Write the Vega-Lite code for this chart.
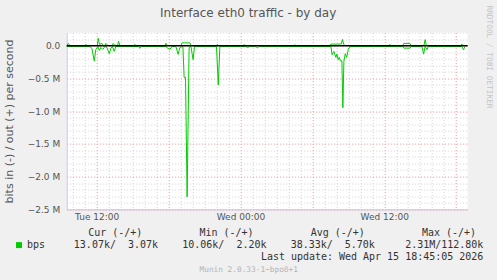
{
  "$schema": "https://vega.github.io/schema/vega-lite/v6.json",
  "width": 401,
  "height": 176.7,
  "autosize": {"type": "none"},
  "padding": {"left": 66.7, "top": 32.6, "right": 29.6, "bottom": 70.7},
  "background": "#F0F0F0",
  "config": {"view": {"fill": "#FFFFFF", "stroke": null}, "font": "DejaVu Sans"},
  "title": {"text": "Interface eth0 traffic - by day", "anchor": "middle", "frame": "group", "dx": -19, "offset": -12.3, "dy": 12.3, "fontSize": 12, "fontWeight": "normal", "color": "#555555", "font": "DejaVu Sans", "baseline": "alphabetic"},
  "datasets": {
    "series": [
      {"t": "2026-04-14T09:31Z", "dir": "in", "bps": -13000},
      {"t": "2026-04-14T10:11Z", "dir": "in", "bps": -13000},
      {"t": "2026-04-14T11:01Z", "dir": "in", "bps": -12000},
      {"t": "2026-04-14T11:26Z", "dir": "in", "bps": -13000},
      {"t": "2026-04-14T11:36Z", "dir": "in", "bps": -41000},
      {"t": "2026-04-14T11:48Z", "dir": "in", "bps": -233000},
      {"t": "2026-04-14T11:56Z", "dir": "in", "bps": -57000},
      {"t": "2026-04-14T12:06Z", "dir": "in", "bps": -13000},
      {"t": "2026-04-14T12:14Z", "dir": "in", "bps": -72000},
      {"t": "2026-04-14T12:21Z", "dir": "in", "bps": -26000},
      {"t": "2026-04-14T12:31Z", "dir": "in", "bps": -57000},
      {"t": "2026-04-14T12:41Z", "dir": "in", "bps": -13000},
      {"t": "2026-04-14T12:51Z", "dir": "in", "bps": -26000},
      {"t": "2026-04-14T13:03Z", "dir": "in", "bps": -123000},
      {"t": "2026-04-14T13:11Z", "dir": "in", "bps": -41000},
      {"t": "2026-04-14T13:19Z", "dir": "in", "bps": -13000},
      {"t": "2026-04-14T13:28Z", "dir": "in", "bps": -87000},
      {"t": "2026-04-14T13:36Z", "dir": "in", "bps": -13000},
      {"t": "2026-04-14T14:21Z", "dir": "in", "bps": -13000},
      {"t": "2026-04-14T15:31Z", "dir": "in", "bps": -13000},
      {"t": "2026-04-14T15:36Z", "dir": "in", "bps": -41000},
      {"t": "2026-04-14T15:41Z", "dir": "in", "bps": -13000},
      {"t": "2026-04-14T17:47Z", "dir": "in", "bps": -13000},
      {"t": "2026-04-14T17:57Z", "dir": "in", "bps": -41000},
      {"t": "2026-04-14T18:07Z", "dir": "in", "bps": -57000},
      {"t": "2026-04-14T18:17Z", "dir": "in", "bps": -13000},
      {"t": "2026-04-14T18:37Z", "dir": "in", "bps": -13000},
      {"t": "2026-04-14T18:48Z", "dir": "in", "bps": -133000},
      {"t": "2026-04-14T18:57Z", "dir": "in", "bps": -26000},
      {"t": "2026-04-14T19:12Z", "dir": "in", "bps": -13000},
      {"t": "2026-04-14T19:18Z", "dir": "in", "bps": -485000},
      {"t": "2026-04-14T19:25Z", "dir": "in", "bps": -485000},
      {"t": "2026-04-14T19:33Z", "dir": "in", "bps": -2310000},
      {"t": "2026-04-14T19:43Z", "dir": "in", "bps": -26000},
      {"t": "2026-04-14T19:52Z", "dir": "in", "bps": -13000},
      {"t": "2026-04-14T20:03Z", "dir": "in", "bps": -214000},
      {"t": "2026-04-14T20:10Z", "dir": "in", "bps": -13000},
      {"t": "2026-04-14T22:00Z", "dir": "in", "bps": -13000},
      {"t": "2026-04-14T22:09Z", "dir": "in", "bps": -597000},
      {"t": "2026-04-14T22:17Z", "dir": "in", "bps": -13000},
      {"t": "2026-04-15T00:27Z", "dir": "in", "bps": -13000},
      {"t": "2026-04-15T00:37Z", "dir": "in", "bps": -26000},
      {"t": "2026-04-15T00:47Z", "dir": "in", "bps": -13000},
      {"t": "2026-04-15T01:17Z", "dir": "in", "bps": -13000},
      {"t": "2026-04-15T01:26Z", "dir": "in", "bps": -34000},
      {"t": "2026-04-15T01:32Z", "dir": "in", "bps": -13000},
      {"t": "2026-04-15T07:33Z", "dir": "in", "bps": -13000},
      {"t": "2026-04-15T07:39Z", "dir": "in", "bps": -138000},
      {"t": "2026-04-15T07:48Z", "dir": "in", "bps": -87000},
      {"t": "2026-04-15T07:58Z", "dir": "in", "bps": -179000},
      {"t": "2026-04-15T08:03Z", "dir": "in", "bps": -129000},
      {"t": "2026-04-15T08:09Z", "dir": "in", "bps": -214000},
      {"t": "2026-04-15T08:15Z", "dir": "in", "bps": -179000},
      {"t": "2026-04-15T08:20Z", "dir": "in", "bps": -230000},
      {"t": "2026-04-15T08:28Z", "dir": "in", "bps": -230000},
      {"t": "2026-04-15T08:33Z", "dir": "in", "bps": -949000},
      {"t": "2026-04-15T08:38Z", "dir": "in", "bps": -240000},
      {"t": "2026-04-15T08:45Z", "dir": "in", "bps": -123000},
      {"t": "2026-04-15T08:52Z", "dir": "in", "bps": -179000},
      {"t": "2026-04-15T09:00Z", "dir": "in", "bps": -57000},
      {"t": "2026-04-15T09:08Z", "dir": "in", "bps": -13000},
      {"t": "2026-04-15T12:58Z", "dir": "in", "bps": -13000},
      {"t": "2026-04-15T13:03Z", "dir": "in", "bps": -18000},
      {"t": "2026-04-15T13:08Z", "dir": "in", "bps": -13000},
      {"t": "2026-04-15T13:33Z", "dir": "in", "bps": -13000},
      {"t": "2026-04-15T13:38Z", "dir": "in", "bps": -37000},
      {"t": "2026-04-15T14:09Z", "dir": "in", "bps": -37000},
      {"t": "2026-04-15T14:14Z", "dir": "in", "bps": -13000},
      {"t": "2026-04-15T15:09Z", "dir": "in", "bps": -13000},
      {"t": "2026-04-15T15:17Z", "dir": "in", "bps": -129000},
      {"t": "2026-04-15T15:25Z", "dir": "in", "bps": -13000},
      {"t": "2026-04-15T15:34Z", "dir": "in", "bps": -61000},
      {"t": "2026-04-15T15:41Z", "dir": "in", "bps": -13000},
      {"t": "2026-04-15T18:29Z", "dir": "in", "bps": -13000},
      {"t": "2026-04-15T18:37Z", "dir": "in", "bps": -61000},
      {"t": "2026-04-15T18:44Z", "dir": "in", "bps": -13000},
      {"t": "2026-04-14T09:31Z", "dir": "out", "bps": 3000},
      {"t": "2026-04-14T09:38Z", "dir": "out", "bps": 35000},
      {"t": "2026-04-14T09:46Z", "dir": "out", "bps": 3000},
      {"t": "2026-04-14T11:01Z", "dir": "out", "bps": 3000},
      {"t": "2026-04-14T11:06Z", "dir": "out", "bps": 20000},
      {"t": "2026-04-14T11:11Z", "dir": "out", "bps": 3000},
      {"t": "2026-04-14T12:03Z", "dir": "out", "bps": 3000},
      {"t": "2026-04-14T12:08Z", "dir": "out", "bps": 112800},
      {"t": "2026-04-14T12:14Z", "dir": "out", "bps": 20000},
      {"t": "2026-04-14T12:26Z", "dir": "out", "bps": 35000},
      {"t": "2026-04-14T12:31Z", "dir": "out", "bps": 3000},
      {"t": "2026-04-14T12:41Z", "dir": "out", "bps": 3000},
      {"t": "2026-04-14T12:46Z", "dir": "out", "bps": 35000},
      {"t": "2026-04-14T12:56Z", "dir": "out", "bps": 3000},
      {"t": "2026-04-14T13:18Z", "dir": "out", "bps": 3000},
      {"t": "2026-04-14T13:23Z", "dir": "out", "bps": 35000},
      {"t": "2026-04-14T13:31Z", "dir": "out", "bps": 3000},
      {"t": "2026-04-14T13:45Z", "dir": "out", "bps": 3000},
      {"t": "2026-04-14T13:50Z", "dir": "out", "bps": 66000},
      {"t": "2026-04-14T13:56Z", "dir": "out", "bps": 3000},
      {"t": "2026-04-14T15:06Z", "dir": "out", "bps": 3000},
      {"t": "2026-04-14T15:11Z", "dir": "out", "bps": 20000},
      {"t": "2026-04-14T15:16Z", "dir": "out", "bps": 3000},
      {"t": "2026-04-14T17:42Z", "dir": "out", "bps": 3000},
      {"t": "2026-04-14T17:47Z", "dir": "out", "bps": 35000},
      {"t": "2026-04-14T17:52Z", "dir": "out", "bps": 3000},
      {"t": "2026-04-14T19:02Z", "dir": "out", "bps": 3000},
      {"t": "2026-04-14T19:08Z", "dir": "out", "bps": 43000},
      {"t": "2026-04-14T19:47Z", "dir": "out", "bps": 43000},
      {"t": "2026-04-14T19:53Z", "dir": "out", "bps": 3000},
      {"t": "2026-04-14T21:59Z", "dir": "out", "bps": 3000},
      {"t": "2026-04-14T22:04Z", "dir": "out", "bps": 20000},
      {"t": "2026-04-14T22:10Z", "dir": "out", "bps": 3000},
      {"t": "2026-04-15T00:12Z", "dir": "out", "bps": 3000},
      {"t": "2026-04-15T00:17Z", "dir": "out", "bps": 12000},
      {"t": "2026-04-15T00:27Z", "dir": "out", "bps": 3000},
      {"t": "2026-04-15T04:28Z", "dir": "out", "bps": 3000},
      {"t": "2026-04-15T04:33Z", "dir": "out", "bps": 12000},
      {"t": "2026-04-15T04:38Z", "dir": "out", "bps": 3000},
      {"t": "2026-04-15T07:28Z", "dir": "out", "bps": 3000},
      {"t": "2026-04-15T07:33Z", "dir": "out", "bps": 24500},
      {"t": "2026-04-15T08:25Z", "dir": "out", "bps": 24500},
      {"t": "2026-04-15T08:31Z", "dir": "out", "bps": 96000},
      {"t": "2026-04-15T08:37Z", "dir": "out", "bps": 20000},
      {"t": "2026-04-15T08:43Z", "dir": "out", "bps": 3000},
      {"t": "2026-04-15T12:23Z", "dir": "out", "bps": 3000},
      {"t": "2026-04-15T12:28Z", "dir": "out", "bps": 20000},
      {"t": "2026-04-15T12:33Z", "dir": "out", "bps": 3000},
      {"t": "2026-04-15T13:33Z", "dir": "out", "bps": 3000},
      {"t": "2026-04-15T13:38Z", "dir": "out", "bps": 35000},
      {"t": "2026-04-15T14:09Z", "dir": "out", "bps": 35000},
      {"t": "2026-04-15T14:14Z", "dir": "out", "bps": 3000},
      {"t": "2026-04-15T15:19Z", "dir": "out", "bps": 3000},
      {"t": "2026-04-15T15:25Z", "dir": "out", "bps": 92000},
      {"t": "2026-04-15T15:31Z", "dir": "out", "bps": 3000},
      {"t": "2026-04-15T18:24Z", "dir": "out", "bps": 3000},
      {"t": "2026-04-15T18:29Z", "dir": "out", "bps": 24500},
      {"t": "2026-04-15T18:34Z", "dir": "out", "bps": 3000},
      {"t": "2026-04-15T18:44Z", "dir": "out", "bps": 3000}
    ],
    "stats": [
      {"stat": "Cur", "head": "Cur (-/+)", "val": "13.07k/\u00a0\u00a03.07k"},
      {"stat": "Min", "head": "Min (-/+)", "val": "10.06k/\u00a0\u00a02.20k"},
      {"stat": "Avg", "head": "Avg (-/+)", "val": "38.33k/\u00a0\u00a05.70k"},
      {"stat": "Max", "head": "Max (-/+)", "val": "2.31M/112.80k"}
    ]
  },
  "layer": [
    {
      "layer": [
        {
          "data": {"name": "series"},
          "mark": {"type": "line", "strokeWidth": 1},
          "encoding": {
            "x": {
              "field": "t", "type": "temporal",
              "scale": {"type": "utc", "domain": [1776159000000, 1776279480000]},
              "axis": {
                "values": [1776160800000, 1776164400000, 1776168000000, 1776171600000, 1776175200000, 1776178800000, 1776182400000, 1776186000000, 1776189600000, 1776193200000, 1776196800000, 1776200400000, 1776204000000, 1776207600000, 1776211200000, 1776214800000, 1776218400000, 1776222000000, 1776225600000, 1776229200000, 1776232800000, 1776236400000, 1776240000000, 1776243600000, 1776247200000, 1776250800000, 1776254400000, 1776258000000, 1776261600000, 1776265200000, 1776268800000, 1776272400000, 1776276000000],
                "labelExpr": "utchours(datum.value) % 12 == 0 ? utcFormat(datum.value, '%a %H:%M') : ''",
                "labelFont": "DejaVu Sans", "labelFontSize": 9, "labelColor": "#555555", "labelPadding": 3,
                "labelOverlap": false, "labelFlush": false,
                "ticks": false, "domainColor": "#C8C8F0",
                "grid": true,
                "gridColor": {"condition": {"test": "utchours(datum.value) % 6 == 0", "value": "#F29090"}, "value": "#D2D2D2"},
                "gridDash": [1, 2],
                "title": "Munin 2.0.33-1~bpo8+1",
                "titleX": 181.5, "titleY": 60.2, "titleAlign": "center", "titleBaseline": "middle",
                "titleFont": "DejaVu Sans Mono", "titleFontSize": 7.8, "titleFontWeight": "normal", "titleColor": "#B4B4B4"
              }
            },
            "y": {
              "field": "bps", "type": "quantitative",
              "scale": {"domain": [-2500000, 200000], "nice": false, "zero": false},
              "axis": {
                "tickCount": 27,
                "labelExpr": "abs(round(datum.value / 100000)) % 5 == 0 ? (abs(datum.value) < 1 ? '0.0' : format(datum.value / 1000000, '.1f') + ' M') : ''",
                "labelFont": "DejaVu Sans", "labelFontSize": 9, "labelColor": "#555555", "labelPadding": 7,
                "labelOverlap": false, "labelFlush": false,
                "ticks": false, "domainColor": "#C8C8F0",
                "grid": true,
                "gridColor": {"condition": {"test": "abs(round(datum.value / 100000)) % 5 == 0", "value": "#F29090"}, "value": "#D2D2D2"},
                "gridDash": [1, 2],
                "title": "bits in (-) / out (+) per second",
                "titleX": -56.7, "titleY": 88.35, "titleAngle": -90, "titleAlign": "center", "titleBaseline": "middle",
                "titleFont": "DejaVu Sans", "titleFontSize": 11, "titleFontWeight": "normal", "titleColor": "#555555"
              }
            },
            "detail": {"field": "dir", "type": "nominal"},
            "color": {
              "datum": "bps", "type": "nominal",
              "scale": {"range": ["#00CC00"]},
              "legend": {
                "orient": "none", "legendX": -52.7, "legendY": 207.5, "title": null, "padding": 0,
                "symbolType": "square", "symbolSize": 36, "symbolFillColor": "#00CC00", "symbolStrokeColor": "#00CC00", "symbolStrokeWidth": 0,
                "labelFont": "DejaVu Sans Mono", "labelFontSize": 10, "labelColor": "#333333", "labelOffset": 3,
                "encode": {"symbols": {"update": {"fill": {"value": "#00CC00"}, "stroke": {"value": "#00CC00"}, "strokeWidth": {"value": 0}}}}
              }
            }
          }
        },
        {
          "data": {"values": [{}]},
          "mark": {"type": "rule", "color": "#000000", "strokeWidth": 1.5},
          "encoding": {"y": {"datum": 0}}
        }
      ]
    },
    {
      "data": {"name": "stats"},
      "layer": [
        {
          "mark": {"type": "text", "align": "right", "baseline": "middle", "font": "DejaVu Sans Mono", "fontSize": 10, "color": "#333333"},
          "encoding": {
            "x": {"field": "stat", "type": "nominal", "scale": {"type": "point", "domain": ["Cur", "Min", "Avg", "Max"], "range": [91.3, 416.6], "padding": 0}, "axis": null},
            "y": {
              "datum": "vals", "type": "nominal",
              "scale": {"type": "point", "domain": ["head", "vals", "upd"], "range": [200.9, 224.6], "padding": 0},
              "axis": {
                "orient": "right", "labels": false, "ticks": false, "domain": false, "grid": false,
                "title": "RRDTOOL / TOBI OETIKER", "titleAngle": 90, "titleX": 20.6, "titleY": 23.9,
                "titleAlign": "center", "titleBaseline": "middle",
                "titleFont": "DejaVu Sans Mono", "titleFontSize": 7.8, "titleFontWeight": "normal", "titleColor": "#C4C4C4"
              }
            },
            "text": {"field": "val", "type": "nominal"}
          }
        },
        {
          "data": {"values": [{"txt": "Last update: Wed Apr 15 18:45:05 2026"}]},
          "mark": {"type": "text", "align": "right", "baseline": "middle", "font": "DejaVu Sans Mono", "fontSize": 10, "color": "#333333"},
          "encoding": {
            "x": {"datum": "Max", "type": "nominal"},
            "y": {"datum": "upd", "type": "nominal"},
            "text": {"field": "txt", "type": "nominal"}
          }
        }
      ]
    },
    {
      "data": {"name": "stats"},
      "mark": {"type": "text", "align": "right", "baseline": "middle", "font": "DejaVu Sans Mono", "fontSize": 10, "color": "#333333"},
      "encoding": {
        "x": {"field": "stat", "type": "nominal", "scale": {"type": "point", "domain": ["Cur", "Min", "Avg", "Max"], "range": [75.6, 409.3], "padding": 0}, "axis": null},
        "y": {"datum": "head", "type": "nominal", "scale": {"type": "point", "domain": ["head", "vals", "upd"], "range": [200.9, 224.6], "padding": 0}, "axis": null},
        "text": {"field": "head", "type": "nominal"}
      }
    }
  ],
  "resolve": {"scale": {"x": "independent", "y": "independent"}, "axis": {"x": "independent", "y": "independent"}}
}
